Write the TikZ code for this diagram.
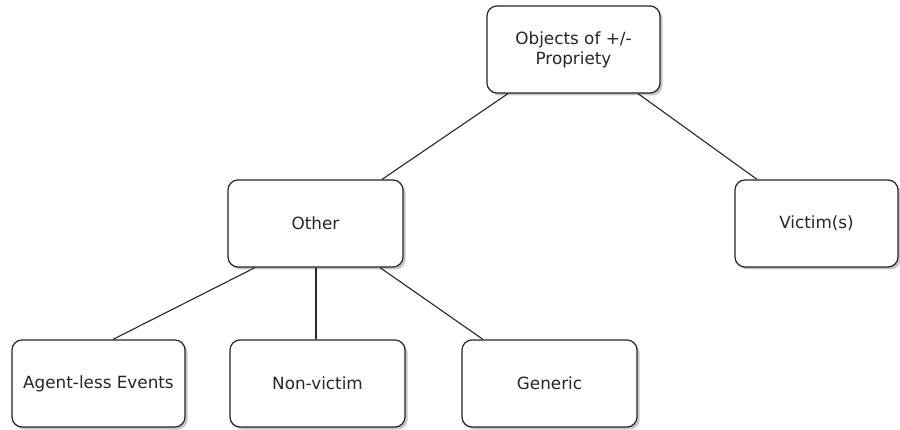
\documentclass[tikz,border=0pt]{standalone}
\usepackage{fontspec}
\setmainfont{DejaVu Sans}
\usetikzlibrary{shadows}
\begin{document}
\begin{tikzpicture}[x=1pt,y=-1pt,
  box/.style={draw=black!85, line width=1.2pt, rounded corners=10pt, fill=white,
    rectangle, inner sep=0pt, minimum height=87pt, align=center,
    font=\fontsize{16.8}{20}\selectfont, text=black!85,
    drop shadow={shadow xshift=2.5pt, shadow yshift=-2.5pt, fill=black!45}},
  link/.style={draw=black!85, line width=1.1pt}]
\useasboundingbox (0,0) rectangle (900,430);
\node[box, minimum width=173pt] (top) at (573.5,49.5) {Objects of +/-\\Propriety};
\node[box, minimum width=175pt] (other) at (315.5,223.5) {Other};
\node[box, minimum width=163pt] (victim) at (816.5,223.5) {Victim(s)};
\node[box, minimum width=173pt] (agent) at (98.5,383.5) {Agent-less Events};
\node[box, minimum width=175pt] (nonvictim) at (317.5,383.5) {Non-victim};
\node[box, minimum width=175pt] (generic) at (549.5,383.5) {Generic};
\draw[link] ([xshift=-65.5pt]top.south) -- ([xshift=66.5pt]other.north);
\draw[link] ([xshift=64.5pt]top.south) -- ([xshift=-59.5pt]victim.north);
\draw[link] ([xshift=-60.5pt]other.south) -- ([xshift=14.5pt]agent.north);
\draw[link] ([xshift=0.5pt]other.south) -- ([xshift=-1.5pt]nonvictim.north);
\draw[link] ([xshift=64.5pt]other.south) -- ([xshift=-66.5pt]generic.north);
\end{tikzpicture}
\end{document}
